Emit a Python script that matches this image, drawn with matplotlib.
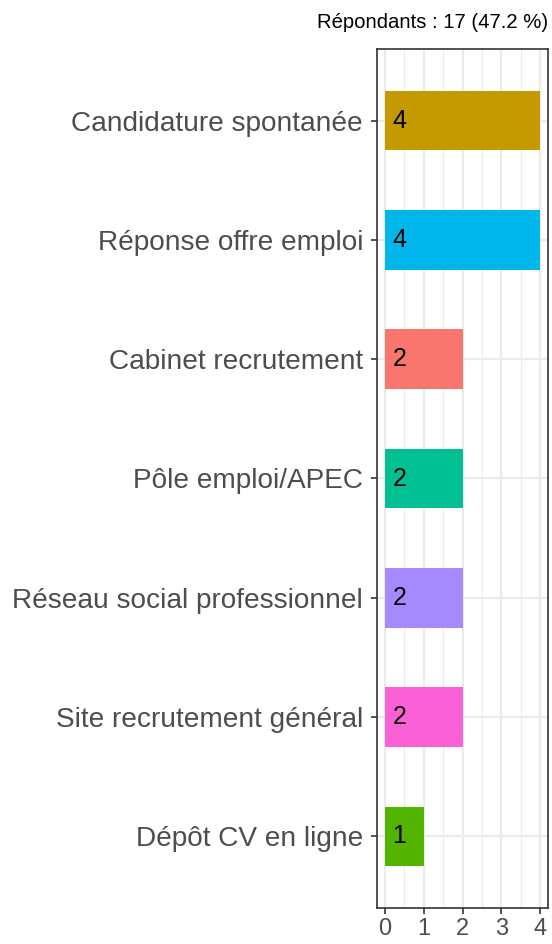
import numpy as np
import matplotlib.pyplot as plt

plt.rcParams['font.family'] = ['Liberation Sans', 'DejaVu Sans']

categories = ["Candidature spontanée", "Réponse offre emploi", "Cabinet recrutement",
              "Pôle emploi/APEC", "Réseau social professionnel",
              "Site recrutement général", "Dépôt CV en ligne"]
counts = [4, 4, 2, 2, 2, 2, 1]
colors = ["#C49A00", "#00B6EB", "#F8766D", "#00C094", "#A58AFF", "#FB61D7", "#53B400"]
title = "Répondants : 17 (47.2 %)"

fig = plt.figure(figsize=(5.52, 9.44), dpi=100)
ax = fig.add_axes([377/552, 1 - 908/944, 171/552, 859/944])

y = np.arange(len(categories))[::-1] + 1
ax.barh(y, counts, height=0.5, color=colors, zorder=3)
for yi, c in zip(y, counts):
    ax.text(0.2, yi, str(c), va='center', ha='left', fontsize=18, color='black', zorder=4)

ax.set_xlim(-0.2, 4.2)
ax.set_ylim(0.4, 7.6)
ax.set_yticks(y)
ax.set_yticklabels(categories, fontsize=20.2, color='#4D4D4D')
ax.set_xticks(range(5))
ax.set_xticklabels([str(i) for i in range(5)], fontsize=17, color='#4D4D4D')
ax.set_xticks(np.arange(0.5, 4, 1), minor=True)

ax.grid(True, which='major', color='#EBEBEB', linewidth=1.6, zorder=0)
ax.grid(True, which='minor', axis='x', color='#EBEBEB', linewidth=0.8, zorder=0)
ax.tick_params(axis='both', which='major', length=4, width=1.2, color='#333333')
ax.tick_params(axis='x', which='minor', length=0)
ax.tick_params(axis='y', pad=6)
ax.tick_params(axis='x', pad=3.5)
for s in ax.spines.values():
    s.set_color('#333333')
    s.set_linewidth(1.2)
ax.set_axisbelow(True)

fig.text(548/552, 1 - 22/944, title, ha='right', va='center', fontsize=14.6, color='black')

fig.savefig("out.png", dpi=100)
plt.close()
